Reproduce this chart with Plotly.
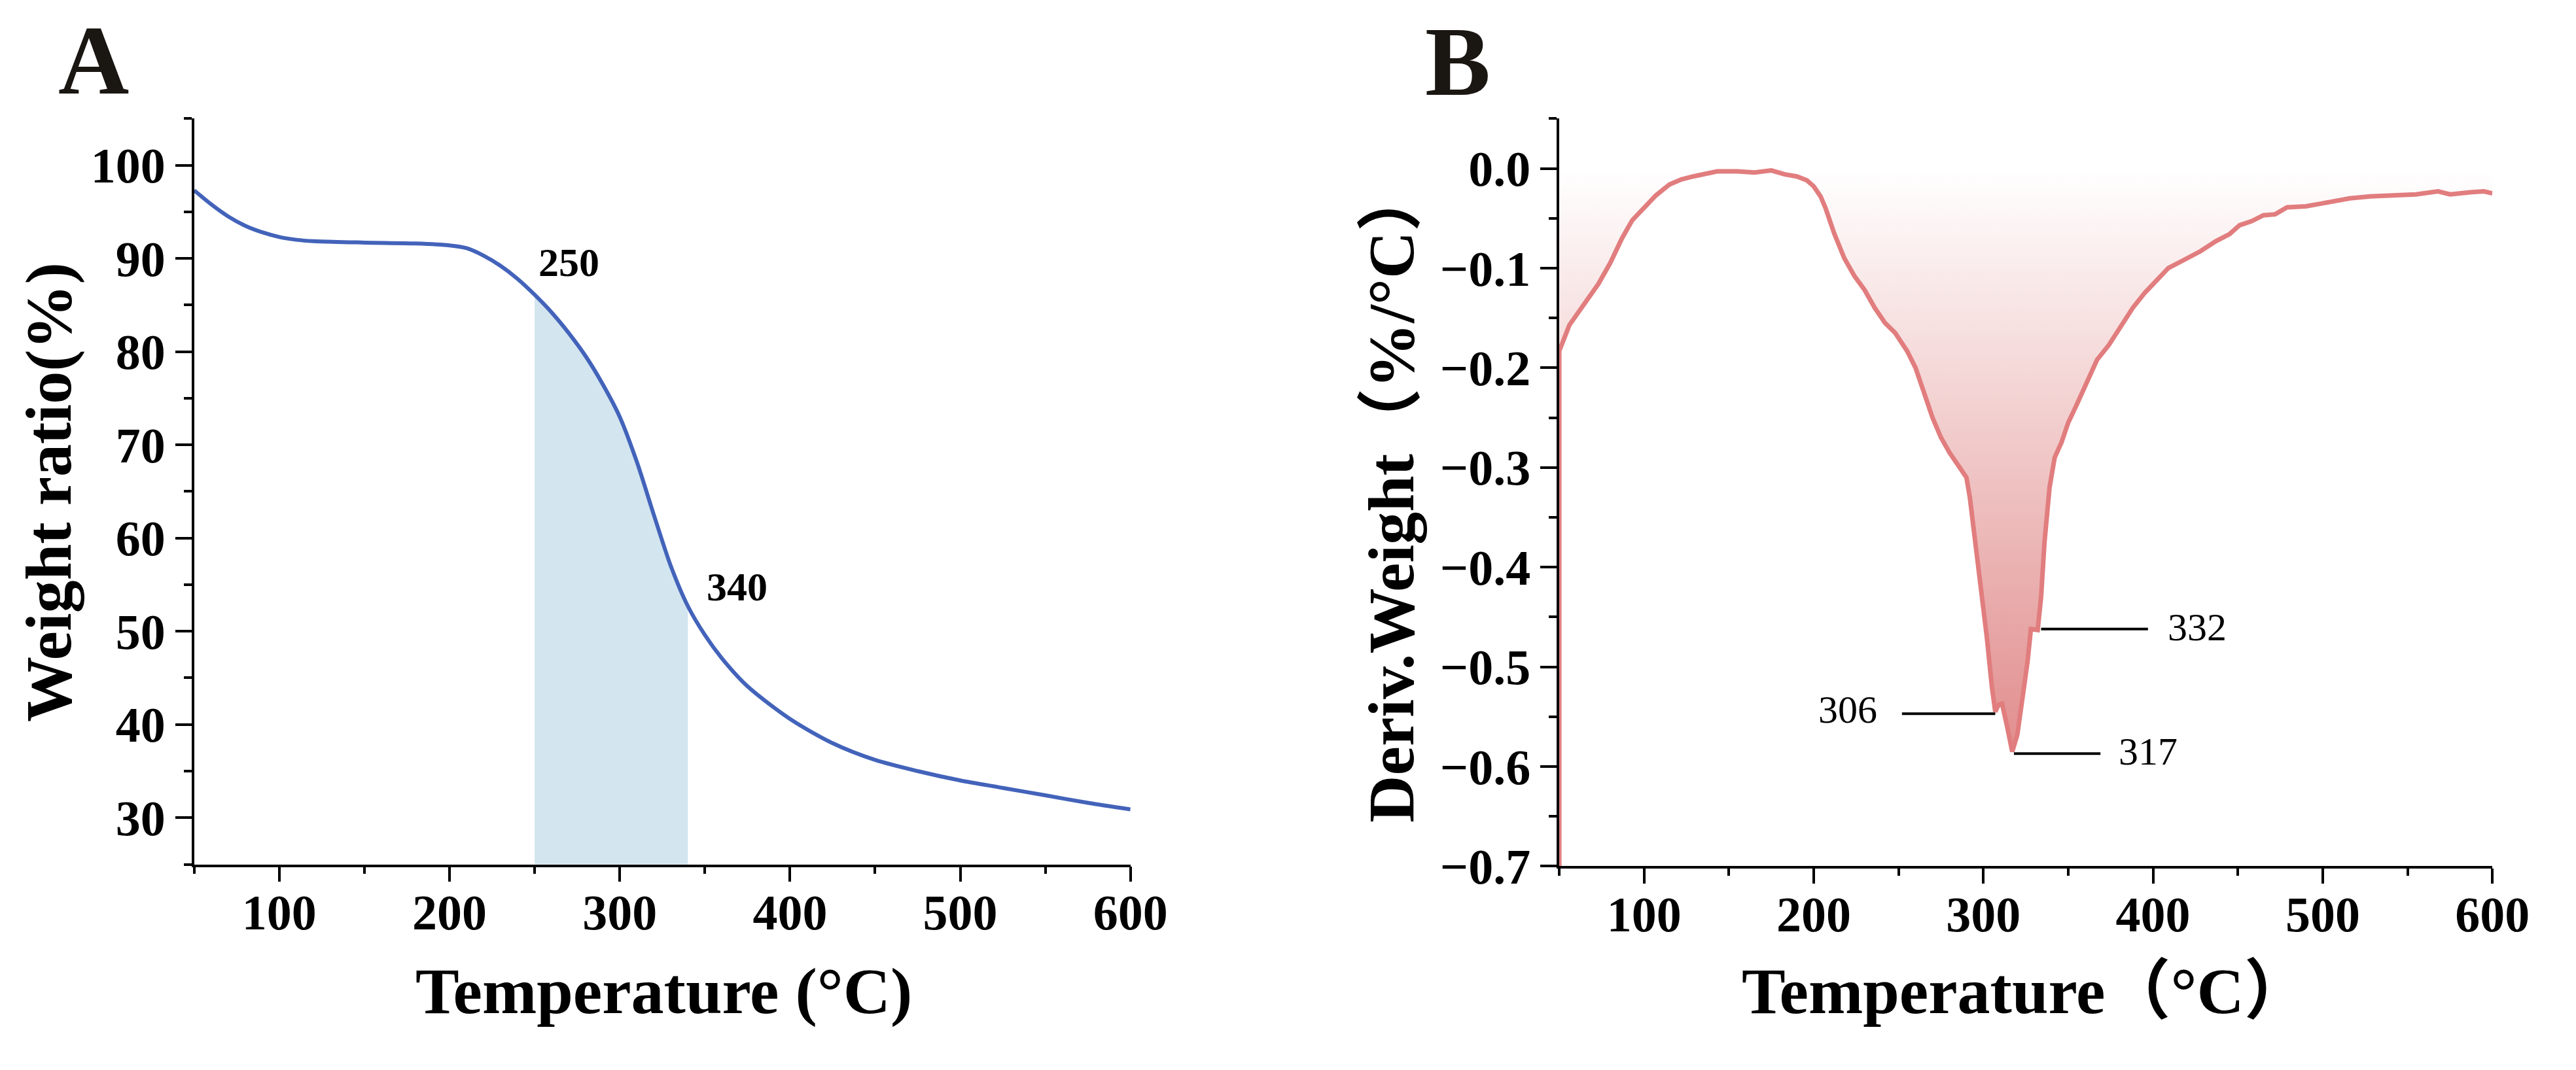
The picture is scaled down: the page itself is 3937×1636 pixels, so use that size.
import numpy as np
import plotly.graph_objects as go

# ---------------- data ----------------
# Panel A: TGA weight ratio (%) vs temperature (°C)
tga_temp = [50, 60, 70, 80, 90, 100, 110, 120, 150, 180, 200, 210, 220, 230, 240, 250,
            260, 270, 280, 290, 300, 310, 320, 330, 340, 350, 360, 375, 400, 425,
            450, 475, 500, 525, 550, 575, 600]
tga_weight = [97.3, 95.8, 94.5, 93.5, 92.8, 92.3, 92.0, 91.85, 91.7, 91.6, 91.4, 91.1,
              90.3, 89.2, 87.8, 86.1, 84.2, 82.0, 79.5, 76.5, 73.0, 68.2, 62.5, 57.0,
              52.7, 49.6, 47.1, 44.1, 40.6, 38.0, 36.2, 35.0, 34.0, 33.2, 32.4, 31.6,
              30.9]
shade_from, shade_to = 250, 340
tga_labels = ["250", "340"]
tga_label_x = [270, 369]
tga_label_y = [89.6, 54.8]

# Panel B: DTG derivative weight (%/°C) vs temperature (°C)
dtg_temp = [50, 50, 56, 65, 73, 80, 87, 93, 100, 107, 115, 122, 129, 136, 143, 155, 165,
            175, 183, 190, 196, 200, 204, 207, 212, 218, 224, 230, 236, 242, 248, 255,
            260, 265, 270, 275, 280, 286, 290, 292, 295, 298, 302, 305, 307, 309, 311,
            314, 317, 320, 323, 326, 328, 332, 334, 336, 339, 342, 346, 350, 355, 361,
            367, 374, 381, 388, 395, 402, 409, 418, 428, 437, 445, 451, 458, 465, 472,
            479, 490, 500, 510, 516, 528, 540, 555, 568, 575, 587, 595, 600]
dtg_rate = [-0.70, -0.183, -0.157, -0.135, -0.116, -0.095, -0.070, -0.052, -0.039,
            -0.027, -0.016, -0.011, -0.008, -0.005, -0.003, -0.003, -0.004, -0.002,
            -0.006, -0.008, -0.012, -0.018, -0.028, -0.040, -0.065, -0.090, -0.108,
            -0.122, -0.140, -0.155, -0.165, -0.183, -0.200, -0.225, -0.250, -0.270,
            -0.285, -0.300, -0.310, -0.330, -0.370, -0.410, -0.470, -0.520, -0.545,
            -0.538, -0.537, -0.560, -0.585, -0.568, -0.535, -0.495, -0.462, -0.463,
            -0.430, -0.375, -0.320, -0.290, -0.275, -0.255, -0.237, -0.215, -0.192,
            -0.177, -0.158, -0.140, -0.125, -0.112, -0.100, -0.092, -0.083, -0.073,
            -0.066, -0.057, -0.053, -0.047, -0.046, -0.039, -0.038, -0.035, -0.032,
            -0.030, -0.028, -0.027, -0.026, -0.023, -0.026, -0.024, -0.023, -0.025]
peak_labels = ["306", "317", "332"]
peak_rate = [-0.547, -0.587, -0.462]
leader_start = [252, 318, 334]
leader_end = [307, 369, 397]
peak_label_x = [220, 397, 426]
peak_label_y = [-0.543, -0.585, -0.460]

# ---------------- styling ----------------
W, H = 3937, 1636
SERIF = "Liberation Serif, Times New Roman, serif"
SERIF_CJK = "Liberation Serif, Noto Sans CJK SC, serif"
BLUE = "#4363BA"
SHADE = "#D3E5EF"
RED = "#E17D7E"


def px_x(p):
    return p / W


def px_y(p):
    return 1 - p / H


fig = go.Figure()

# Panel A
t = np.array(tga_temp)
w = np.array(tga_weight)
mask = (t >= shade_from) & (t <= shade_to)
fig.add_trace(go.Scatter(x=t[mask], y=w[mask], mode="lines",
                         line=dict(width=0, shape="spline", smoothing=0.8),
                         fill="tozeroy", fillcolor=SHADE, xaxis="x", yaxis="y",
                         hoverinfo="skip", showlegend=False))
fig.add_trace(go.Scatter(x=tga_temp, y=tga_weight, mode="lines",
                         line=dict(color=BLUE, width=6, shape="spline", smoothing=0.8),
                         xaxis="x", yaxis="y", showlegend=False))

# Panel B
fig.add_trace(go.Scatter(x=dtg_temp, y=dtg_rate, mode="lines",
                         line=dict(color=RED, width=7),
                         fill="tozeroy",
                         fillgradient=dict(type="vertical",
                                           colorscale=[[0, "#E08989"], [1, "#FFFFFF"]],
                                           start=-0.59, stop=0.0),
                         xaxis="x2", yaxis="y2", showlegend=False))

annotations = []
for txt, xv, yv in zip(tga_labels, tga_label_x, tga_label_y):
    annotations.append(dict(text=txt, x=xv, y=yv, xref="x", yref="y", showarrow=False,
                            xanchor="center", yanchor="middle",
                            font=dict(family=SERIF, size=62, color="black", weight="bold")))
shapes = []
for txt, yv, x0, x1, lx, ly in zip(peak_labels, peak_rate, leader_start, leader_end,
                                   peak_label_x, peak_label_y):
    shapes.append(dict(type="line", xref="x2", yref="y2", x0=x0, x1=x1, y0=yv, y1=yv,
                       line=dict(color="black", width=4)))
    annotations.append(dict(text=txt, x=lx, y=ly, xref="x2", yref="y2", showarrow=False,
                            xanchor="center", yanchor="middle",
                            font=dict(family=SERIF, size=60, color="black")))

# panel letters
annotations.append(dict(text="A", x=px_x(80), y=px_y(86), xref="paper", yref="paper",
                        xanchor="left", yanchor="middle", showarrow=False,
                        font=dict(family=SERIF, size=150, color="#1a1612", weight="bold")))
annotations.append(dict(text="B", x=px_x(2200), y=px_y(88), xref="paper", yref="paper",
                        xanchor="left", yanchor="middle", showarrow=False,
                        font=dict(family=SERIF, size=150, color="#1a1612", weight="bold")))

# axis titles
title_font = dict(family=SERIF, size=100, color="black", weight="bold")
title_font_cjk = dict(family=SERIF_CJK, size=100, color="black", weight="bold")
annotations.append(dict(text="Temperature (°C)", x=px_x(1021), y=px_y(1548),
                        xanchor="center", yanchor="middle",
                        xref="paper", yref="paper", showarrow=False, font=title_font))
annotations.append(dict(text="Weight ratio(%)", x=px_x(68), y=px_y(765), textangle=-90,
                        xanchor="center", yanchor="middle",
                        xref="paper", yref="paper", showarrow=False, font=title_font))
annotations.append(dict(text="Temperature（°C）", x=px_x(3133), y=px_y(1548),
                        xanchor="center", yanchor="middle",
                        xref="paper", yref="paper", showarrow=False, font=title_font_cjk))
annotations.append(dict(text="Deriv.Weight（%/°C）", x=px_x(2150), y=px_y(768), textangle=-90,
                        xanchor="center", yanchor="middle",
                        xref="paper", yref="paper", showarrow=False, font=title_font_cjk))

tick_font = dict(family=SERIF, size=76, color="black", weight="bold")
common = dict(showgrid=False, zeroline=False, showline=True, linecolor="black",
              linewidth=3.5, ticks="outside", tickwidth=3.5, tickcolor="black",
              tickfont=tick_font)
xcommon = dict(common, range=[50, 600], tick0=0, dtick=100, ticklen=23,
               ticklabelstandoff=-18,
               minor=dict(ticks="outside", ticklen=11, tickwidth=3.5, tickcolor="black",
                          tick0=0, dtick=50))

fig.update_layout(
    width=W, height=H, margin=dict(l=0, r=0, t=0, b=0),
    paper_bgcolor="white", plot_bgcolor="rgba(0,0,0,0)",
    xaxis=dict(xcommon, domain=[px_x(293), px_x(1745)], anchor="y"),
    yaxis=dict(common, domain=[px_y(1349), px_y(178)], anchor="x", range=[25, 105],
               tick0=0, dtick=10, ticklen=25,
               minor=dict(ticks="outside", ticklen=12, tickwidth=3.5, tickcolor="black",
                          tick0=0, dtick=5)),
    xaxis2=dict(xcommon, domain=[px_x(2410), px_x(3857)], anchor="y2"),
    yaxis2=dict(common, domain=[px_y(1352), px_y(178)], anchor="x2", range=[-0.7, 0.05],
                tick0=0, dtick=0.1, ticklen=25, tickformat=".1f",
                minor=dict(ticks="outside", ticklen=12, tickwidth=3.5, tickcolor="black",
                           tick0=0, dtick=0.05)),
    annotations=annotations,
    shapes=shapes,
)

fig.write_html("out.html")
